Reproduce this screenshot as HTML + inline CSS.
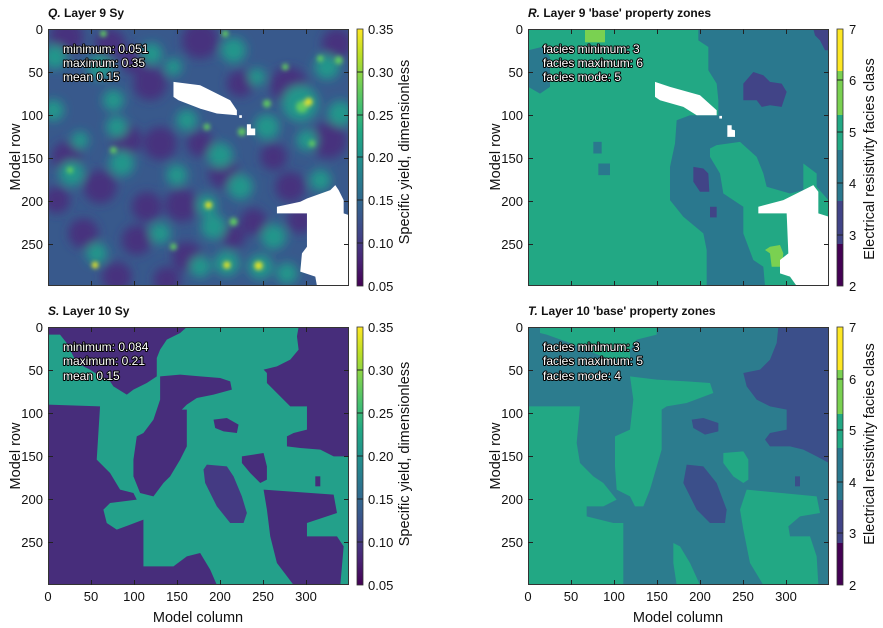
<!DOCTYPE html>
<html><head><meta charset="utf-8"><style>
html,body{margin:0;padding:0;background:#fff;width:883px;height:628px;overflow:hidden}
svg{position:absolute;left:0;top:0}
text{font-family:"Liberation Sans Narrow","Liberation Sans",sans-serif;fill:#111}
.t{font-weight:bold;font-size:12px}
.tk{font-size:13px}
.ax{font-size:14.5px}
text.an{font-size:12px;fill:#fff;stroke:#000;stroke-width:2px;paint-order:stroke;stroke-linejoin:round}
</style></head><body>
<svg width="883" height="628" viewBox="0 0 883 628" xmlns="http://www.w3.org/2000/svg">
<defs>
<linearGradient id="vir" x1="0" y1="1" x2="0" y2="0">
<stop offset="0" stop-color="#440154"/><stop offset="0.1" stop-color="#482475"/><stop offset="0.2" stop-color="#414487"/><stop offset="0.3" stop-color="#355f8d"/><stop offset="0.4" stop-color="#2a788e"/><stop offset="0.5" stop-color="#21918c"/><stop offset="0.6" stop-color="#22a884"/><stop offset="0.7" stop-color="#44bf70"/><stop offset="0.8" stop-color="#7ad151"/><stop offset="0.9" stop-color="#bddf26"/><stop offset="1" stop-color="#fde725"/>
</linearGradient>
<filter id="bl" x="-10%" y="-10%" width="120%" height="120%"><feGaussianBlur stdDeviation="14"/></filter>
<filter id="bl2" x="-10%" y="-10%" width="120%" height="120%"><feGaussianBlur stdDeviation="6"/></filter>
<clipPath id="cq"><rect x="144" y="86" width="902" height="772"/></clipPath>
</defs>

<!-- ===== Q ===== -->
<text class="t" x="48" y="17"><tspan font-style="italic">Q.</tspan> Layer 9 Sy</text>
<svg x="48" y="29" width="301" height="257" viewBox="144 86 902 772" preserveAspectRatio="none">
<g clip-path="url(#cq)">
<rect x="100" y="50" width="1000" height="850" fill="#38598c"/>
<g filter="url(#bl)">
<g fill="#46307e">
<circle cx="200" cy="110" r="50"/><circle cx="330" cy="130" r="45"/><circle cx="600" cy="120" r="55"/><circle cx="450" cy="250" r="50"/><circle cx="380" cy="420" r="45"/><circle cx="480" cy="430" r="50"/><circle cx="200" cy="470" r="45"/><circle cx="300" cy="560" r="50"/><circle cx="440" cy="620" r="45"/><circle cx="545" cy="615" r="50"/><circle cx="670" cy="520" r="45"/><circle cx="760" cy="665" r="40"/><circle cx="865" cy="255" r="55"/><circle cx="985" cy="420" r="55"/><circle cx="250" cy="700" r="45"/><circle cx="410" cy="720" r="45"/><circle cx="560" cy="770" r="45"/><circle cx="350" cy="830" r="45"/><circle cx="1010" cy="130" r="45"/><circle cx="870" cy="560" r="45"/><circle cx="700" cy="710" r="35"/><circle cx="170" cy="600" r="40"/><circle cx="600" cy="430" r="40"/><circle cx="820" cy="470" r="40"/><circle cx="400" cy="180" r="40"/><circle cx="720" cy="250" r="40"/><circle cx="900" cy="660" r="40"/><circle cx="500" cy="840" r="40"/>
</g>
<g fill="#22968b">
<circle cx="165" cy="170" r="36"/><circle cx="300" cy="200" r="38"/><circle cx="455" cy="160" r="32"/><circle cx="700" cy="150" r="38"/><circle cx="980" cy="200" r="38"/><circle cx="900" cy="310" r="55"/><circle cx="800" cy="380" r="38"/><circle cx="660" cy="465" r="38"/><circle cx="350" cy="380" r="32"/><circle cx="215" cy="520" r="38"/><circle cx="365" cy="490" r="38"/><circle cx="530" cy="525" r="32"/><circle cx="720" cy="560" r="38"/><circle cx="640" cy="680" r="38"/><circle cx="920" cy="420" r="32"/><circle cx="820" cy="710" r="38"/><circle cx="290" cy="760" r="32"/><circle cx="480" cy="700" r="32"/><circle cx="160" cy="330" r="32"/><circle cx="560" cy="360" r="32"/><circle cx="1020" cy="340" r="38"/><circle cx="770" cy="230" r="26"/><circle cx="340" cy="300" r="32"/><circle cx="600" cy="800" r="32"/><circle cx="860" cy="820" r="32"/><circle cx="680" cy="790" r="38"/><circle cx="780" cy="800" r="38"/><circle cx="960" cy="540" r="32"/><circle cx="620" cy="615" r="32"/><circle cx="240" cy="420" r="26"/><circle cx="520" cy="200" r="26"/>
</g>
</g>
<g filter="url(#bl2)">
<g fill="#5ec962">
<circle cx="905" cy="320" r="18"/><circle cx="800" cy="310" r="12"/><circle cx="725" cy="395" r="12"/><circle cx="620" cy="380" r="10"/><circle cx="210" cy="510" r="10"/><circle cx="340" cy="450" r="10"/><circle cx="520" cy="740" r="10"/><circle cx="700" cy="665" r="12"/><circle cx="960" cy="175" r="10"/><circle cx="1015" cy="180" r="12"/><circle cx="855" cy="200" r="10"/><circle cx="935" cy="430" r="10"/><circle cx="310" cy="100" r="10"/><circle cx="675" cy="100" r="10"/>
</g>
<g fill="#e0e22a">
<circle cx="625" cy="615" r="11"/><circle cx="775" cy="797" r="13"/><circle cx="680" cy="795" r="11"/><circle cx="285" cy="795" r="10"/><circle cx="925" cy="305" r="12"/>
</g>
</g>
<g fill="#fff">
<polygon points="520,245 600,255 690,300 710,330 710,345 650,340 600,325 535,300 520,290"/>
<rect x="717" y="345" width="8" height="8"/>
<polygon points="740,372 752,372 752,385 765,385 765,405 740,405"/>
<polygon points="830,620 900,605 920,595 990,570 1005,555 1015,570 1030,600 1030,640 1046,645 1046,858 950,858 945,830 900,815 905,760 920,740 920,640 830,640"/>
</g>
</g>
</svg>

<!-- ===== R ===== -->
<text class="t" x="528" y="17"><tspan font-style="italic">R.</tspan> Layer 9  'base' property zones</text>
<svg x="528" y="29" width="301" height="257" viewBox="174 86 903 772" preserveAspectRatio="none">
<rect x="174" y="86" width="903" height="772" fill="#22a884"/>
<g fill="#2a788e">
<polygon points="685,86 685,120 715,140 715,210 740,250 745,300 745,345 660,345 620,360 615,430 600,500 600,600 640,650 700,700 710,750 710,858 885,858 880,800 850,780 820,700 820,620 790,600 760,580 750,520 720,470 720,445 740,435 810,425 860,470 880,520 890,560 960,580 1000,570 1000,490 1040,520 1040,560 1075,600 1077,640 1077,86"/>
<polygon points="175,150 215,140 240,170 240,260 210,280 175,260"/>
<rect x="370" y="425" width="25" height="35"/>
<rect x="385" y="490" width="35" height="35"/>
</g>
<g fill="#414487">
<polygon points="850,215 880,225 900,245 935,250 950,275 935,320 900,315 875,320 860,300 820,300 820,250"/>
<polygon points="670,500 700,505 715,520 718,575 690,575 670,545"/>
<rect x="720" y="620" width="20" height="32"/>
<polygon points="1030,86 1077,86 1077,150 1065,150 1050,120 1035,105"/>
</g>
<g fill="#7ad151">
<rect x="345" y="86" width="60" height="40"/>
<polygon points="885,750 900,740 930,735 940,760 935,800 905,800 900,760"/>
</g>
<g fill="#fff">
<polygon points="555,245 600,260 690,285 740,330 740,345 680,345 640,320 570,300 555,290"/>
<rect x="748" y="347" width="8" height="8"/>
<polygon points="772,375 785,375 785,388 795,390 795,410 772,410"/>
<polygon points="865,620 940,600 1030,555 1045,575 1045,640 1077,650 1077,858 980,858 960,830 930,820 930,780 955,760 950,640 865,640"/>
</g>
</svg>

<!-- ===== S ===== -->
<text class="t" x="48" y="315"><tspan font-style="italic">S.</tspan> Layer 10 Sy</text>
<svg x="48" y="327" width="301" height="258" viewBox="144 52 902 774" preserveAspectRatio="none">
<rect x="144" y="52" width="902" height="774" fill="#23a08a"/>
<g fill="#472d7b">
<polygon points="144,52 560,52 540,70 500,90 480,120 470,145 470,200 440,220 400,240 380,255 340,230 330,215 300,200 270,180 230,160 200,100 180,75 144,75"/>
<polygon points="480,200 540,195 600,200 660,205 690,215 695,240 640,255 590,265 560,285 545,300 560,300 560,410 540,450 510,500 490,520 460,560 420,550 400,500 400,450 410,380 430,370 460,330 480,270"/>
<polygon points="144,285 300,290 290,450 330,490 360,540 400,550 410,570 330,580 310,600 320,640 350,660 430,630 430,770 520,770 560,740 600,730 630,780 650,826 144,826"/>
<polygon points="895,52 1046,52 1046,440 1000,440 960,420 900,415 860,410 860,380 880,370 920,360 920,290 870,290 840,260 800,220 800,190 790,180 830,170 870,150 895,120 890,80"/>
<polygon points="640,330 680,325 715,345 710,370 670,365 645,355"/>
<polygon points="725,440 790,430 800,470 800,510 780,520 750,490 725,460"/>
<polygon points="790,540 1000,555 1010,610 920,640 920,680 1010,680 1030,710 1020,826 880,826 830,760 810,680 800,600"/>
<rect x="945" y="500" width="15" height="30"/>
</g>
<polygon fill="#443a83" points="620,465 680,470 700,500 725,560 740,610 730,640 690,640 650,590 615,520 610,480"/>
</svg>

<!-- ===== T ===== -->
<text class="t" x="528" y="315"><tspan font-style="italic">T.</tspan> Layer 10  'base' property zones</text>
<svg x="528" y="327" width="301" height="258" viewBox="174 52 903 774" preserveAspectRatio="none">
<rect x="174" y="52" width="903" height="774" fill="#2c7c8e"/>
<g fill="#22a884">
<polygon points="210,52 560,52 560,75 500,90 480,120 480,150 420,150 300,100 230,75 210,70"/>
<polygon points="175,290 330,290 320,400 330,460 370,500 400,520 440,570 400,590 350,590 350,620 430,640 460,640 460,826 175,826"/>
<polygon points="480,200 560,210 650,215 720,220 730,250 650,280 590,290 575,300 575,420 540,540 520,590 495,590 480,560 440,540 435,470 435,380 480,360 490,270"/>
<polygon points="830,540 1040,560 1050,610 990,620 955,650 960,680 1020,680 1040,740 1045,826 880,826 840,760 820,660 810,600"/>
<polygon points="760,430 820,425 835,450 835,510 820,520 790,500 760,460"/>
<polygon points="610,700 630,710 660,760 690,826 620,826 610,760"/>
</g>
<g fill="#3b4f8a">
<polygon points="925,52 1077,52 1077,460 1040,440 1000,420 960,410 900,410 885,390 900,370 950,360 950,300 900,290 860,270 830,230 820,190 870,180 900,150 920,100"/>
<polygon points="650,465 700,470 740,520 770,600 765,640 720,640 680,600 640,520"/>
<polygon points="665,330 700,325 745,340 745,365 705,375 670,355"/>
<rect x="975" y="500" width="15" height="30"/>
</g>
</svg>

<!-- frames -->
<g fill="none" stroke="#333" stroke-width="1">
<rect x="48.5" y="29.5" width="300" height="256"/>
<rect x="528.5" y="29.5" width="300" height="256"/>
<rect x="48.5" y="327.5" width="300" height="257"/>
<rect x="528.5" y="327.5" width="300" height="257"/>
</g>
<g stroke="#222" stroke-width="1">
<path d="M91.5,29v5M134.5,29v5M177.5,29v5M220.5,29v5M263.5,29v5M306.5,29v5M91.5,286v-5M134.5,286v-5M177.5,286v-5M220.5,286v-5M263.5,286v-5M306.5,286v-5"/>
<path d="M571.5,29v5M614.5,29v5M657.5,29v5M700.5,29v5M743.5,29v5M786.5,29v5M571.5,286v-5M614.5,286v-5M657.5,286v-5M700.5,286v-5M743.5,286v-5M786.5,286v-5"/>
<path d="M91.5,327v5M134.5,327v5M177.5,327v5M220.5,327v5M263.5,327v5M306.5,327v5M91.5,585v-5M134.5,585v-5M177.5,585v-5M220.5,585v-5M263.5,585v-5M306.5,585v-5"/>
<path d="M571.5,327v5M614.5,327v5M657.5,327v5M700.5,327v5M743.5,327v5M786.5,327v5M571.5,585v-5M614.5,585v-5M657.5,585v-5M700.5,585v-5M743.5,585v-5M786.5,585v-5"/>
<path d="M48,72.5h5M48,115.5h5M48,158.5h5M48,201.5h5M48,244.5h5M349,72.5h-5M349,115.5h-5M349,158.5h-5M349,201.5h-5M349,244.5h-5"/>
<path d="M528,72.5h5M528,115.5h5M528,158.5h5M528,201.5h5M528,244.5h5M829,72.5h-5M829,115.5h-5M829,158.5h-5M829,201.5h-5M829,244.5h-5"/>
<path d="M48,370.5h5M48,413.5h5M48,456.5h5M48,499.5h5M48,542.5h5M349,370.5h-5M349,413.5h-5M349,456.5h-5M349,499.5h-5M349,542.5h-5"/>
<path d="M528,370.5h5M528,413.5h5M528,456.5h5M528,499.5h5M528,542.5h5M829,370.5h-5M829,413.5h-5M829,456.5h-5M829,499.5h-5M829,542.5h-5"/>
</g>

<g class="tk" text-anchor="end">
<text x="43" y="34">0</text><text x="43" y="77">50</text><text x="43" y="120">100</text><text x="43" y="163">150</text><text x="43" y="206">200</text><text x="43" y="249">250</text>
<text x="523" y="34">0</text><text x="523" y="77">50</text><text x="523" y="120">100</text><text x="523" y="163">150</text><text x="523" y="206">200</text><text x="523" y="249">250</text>
<text x="43" y="332">0</text><text x="43" y="375">50</text><text x="43" y="418">100</text><text x="43" y="461">150</text><text x="43" y="504">200</text><text x="43" y="547">250</text>
<text x="523" y="332">0</text><text x="523" y="375">50</text><text x="523" y="418">100</text><text x="523" y="461">150</text><text x="523" y="504">200</text><text x="523" y="547">250</text>
</g>
<g class="tk" text-anchor="middle">
<text x="48" y="601">0</text><text x="91" y="601">50</text><text x="134" y="601">100</text><text x="177" y="601">150</text><text x="220" y="601">200</text><text x="263" y="601">250</text><text x="306" y="601">300</text>
<text x="528" y="601">0</text><text x="571" y="601">50</text><text x="614" y="601">100</text><text x="657" y="601">150</text><text x="700" y="601">200</text><text x="743" y="601">250</text><text x="786" y="601">300</text>
</g>
<g class="ax" text-anchor="middle">
<text x="198" y="622">Model column</text><text x="678" y="622">Model column</text>
<text transform="translate(20,157) rotate(-90)">Model row</text>
<text transform="translate(500,157) rotate(-90)">Model row</text>
<text transform="translate(20,456) rotate(-90)">Model row</text>
<text transform="translate(500,456) rotate(-90)">Model row</text>
<text transform="translate(409,152) rotate(-90)">Specific yield, dimensionless</text>
<text transform="translate(409,454) rotate(-90)">Specific yield, dimensionless</text>
<text transform="translate(874,159) rotate(-90)">Electrical resistivity facies class</text>
<text transform="translate(874,444) rotate(-90)">Electrical resistivity facies class</text>
</g>

<g>
<text class="an" x="63" y="53">minimum: 0.051</text><text class="an" x="63" y="67">maximum: 0.35</text><text class="an" x="63" y="81">mean 0.15</text>
<text class="an" x="543" y="53">facies minimum: 3</text><text class="an" x="543" y="67">facies maximum: 6</text><text class="an" x="543" y="81">facies mode: 5</text>
<text class="an" x="63" y="351">minimum: 0.084</text><text class="an" x="63" y="365">maximum: 0.21</text><text class="an" x="63" y="380">mean 0.15</text>
<text class="an" x="543" y="351">facies minimum: 3</text><text class="an" x="543" y="365">facies maximum: 5</text><text class="an" x="543" y="380">facies mode: 4</text>
</g>

<rect x="357" y="29" width="6" height="257" fill="url(#vir)" stroke="#333" stroke-width="0.8"/>
<rect x="357" y="327" width="6" height="258" fill="url(#vir)" stroke="#333" stroke-width="0.8"/>
<g stroke="#222" stroke-width="1"><path d="M357,72h6M357,115h6M357,157h6M357,200h6M357,243h6M357,370h6M357,413h6M357,456h6M357,499h6M357,542h6"/></g>
<g class="tk">
<text x="368" y="34">0.35</text><text x="368" y="77">0.30</text><text x="368" y="120">0.25</text><text x="368" y="162">0.20</text><text x="368" y="205">0.15</text><text x="368" y="248">0.10</text><text x="368" y="291">0.05</text>
<text x="368" y="332">0.35</text><text x="368" y="375">0.30</text><text x="368" y="418">0.25</text><text x="368" y="461">0.20</text><text x="368" y="504">0.15</text><text x="368" y="547">0.10</text><text x="368" y="590">0.05</text>
</g>

<g>
<rect x="837" y="29" width="6" height="42" fill="#fde725"/><rect x="837" y="71" width="6" height="44" fill="#7ad151"/><rect x="837" y="115" width="6" height="35" fill="#22a884"/><rect x="837" y="150" width="6" height="51" fill="#2a788e"/><rect x="837" y="201" width="6" height="43" fill="#414487"/><rect x="837" y="244" width="6" height="42" fill="#440154"/>
<rect x="837" y="29" width="6" height="257" fill="none" stroke="#333" stroke-width="0.8"/>
<rect x="837" y="327" width="6" height="43" fill="#fde725"/><rect x="837" y="370" width="6" height="44" fill="#7ad151"/><rect x="837" y="414" width="6" height="34" fill="#22a884"/><rect x="837" y="448" width="6" height="52" fill="#2a788e"/><rect x="837" y="500" width="6" height="43" fill="#414487"/><rect x="837" y="543" width="6" height="42" fill="#440154"/>
<rect x="837" y="327" width="6" height="258" fill="none" stroke="#333" stroke-width="0.8"/>
</g>
<g stroke="#222" stroke-width="1"><path d="M837,80h6M837,132h6M837,183h6M837,235h6M837,379h6M837,430h6M837,482h6M837,533h6"/></g>
<g class="tk">
<text x="849" y="34">7</text><text x="849" y="85">6</text><text x="849" y="137">5</text><text x="849" y="188">4</text><text x="849" y="240">3</text><text x="849" y="291">2</text>
<text x="849" y="332">7</text><text x="849" y="384">6</text><text x="849" y="435">5</text><text x="849" y="487">4</text><text x="849" y="538">3</text><text x="849" y="590">2</text>
</g>
</svg>
</body></html>
